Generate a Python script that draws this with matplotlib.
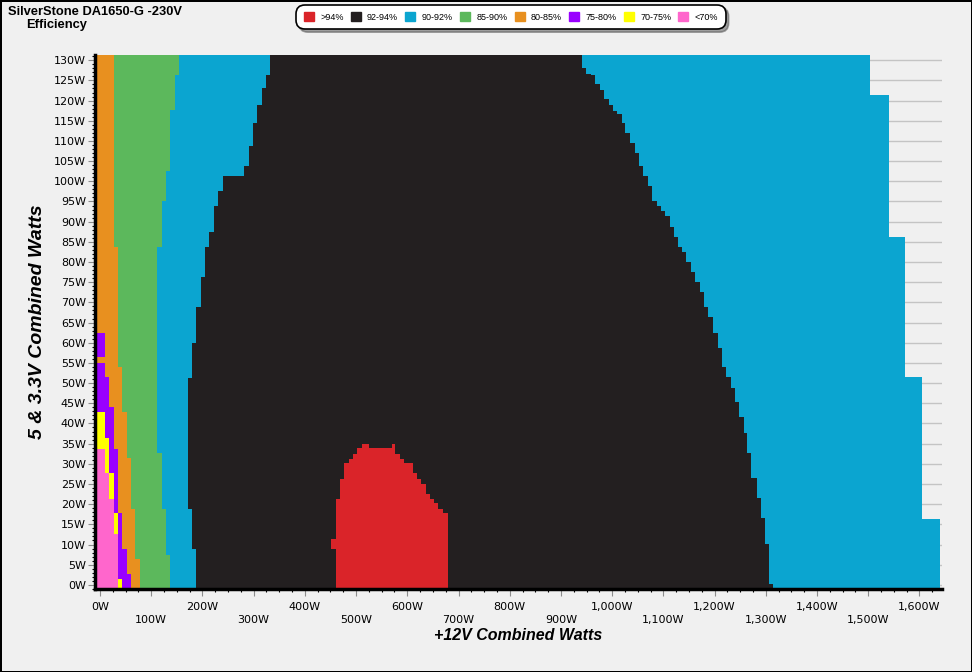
import matplotlib
matplotlib.use("Agg")
import matplotlib.pyplot as plt
from matplotlib.patches import Patch
from matplotlib.ticker import MultipleLocator

# efficiency zones
# each zone: y edges (5V & 3.3V watts) and the +12V watts where the colour stops
legend_labels = [">94%", "92-94%", "90-92%", "85-90%", "80-85%", "75-80%", "70-75%", "<70%"]
zone_colors = ["#da2429", "#231f20", "#0ba5d0", "#5cb85c", "#e8901f", "#9900ff", "#ffff00", "#ff66cc"]

right_edges = [-1.1, 16.4, 51.4, 86.2, 121.4, 131.3]
right_end = [1641, 1605, 1572, 1540, 1504]

black_edges = [-1.1, 0.1, 10.1, 16.5, 21.5, 26.4, 32.6, 37.6, 41.5, 45.2, 48.9, 51.4,
               53.9, 58.8, 62.5, 66.4, 68.9, 72.5, 75.0, 77.5, 80.0, 82.4, 83.7, 86.1,
               88.6, 91.3, 92.6, 93.8, 95.1, 98.8, 101.3, 103.8, 106.9, 109.4, 111.9,
               114.4, 116.8, 117.5, 118.9, 120.5, 122.6, 124.2, 126.3, 126.7, 128.1, 131.3]
black_end = [1315, 1307, 1298, 1290, 1282, 1272, 1264, 1257, 1247, 1239, 1232,
             1222, 1214, 1206, 1196, 1188, 1178.5, 1170.7, 1162, 1154, 1145, 1137,
             1128, 1120, 1112, 1103, 1095, 1087, 1077, 1069, 1061, 1051.7, 1044,
             1034, 1026, 1018.5, 1010, 1001, 993, 983.4, 975.6, 967, 958, 949.6, 941.8]

red_edges = [-1.1, 8.8, 11.3, 17.7, 18.9, 20.2, 21.4, 22.6, 25.1, 26.3, 27.6, 30.1,
             31.3, 32.5, 33.8, 35.0]
red_start = [460.5, 450.7, 460.5, 460.5, 460.5, 460.5, 468.3, 468.3, 468.3, 476.1,
             476.1, 485.9, 493.7, 501.5, 511.2]
red_end = [679, 679, 679, 669.3, 659.5, 651.7, 643.9, 636.1, 626.3, 618.5, 610.7,
           593.2, 585.4, 575.6, 524.9]
red_bump_edges = [33.8, 35.0]
red_bump_start = [569.8]
red_bump_end = [575.6]

blue_edges = [-1.1, 8.8, 18.9, 51.3, 60.0, 68.8, 76.2, 83.7, 87.4, 93.9, 97.6, 101.3,
              103.8, 108.7, 114.4, 118.9, 123.0, 126.3, 131.3]
blue_end = [187.3, 179.5, 171.7, 179.5, 187.3, 197, 205, 212.7, 222.4, 230, 240,
            281, 290.7, 298.5, 306, 316, 324, 331.7]

green_edges = [-1.1, 7.5, 18.9, 32.6, 83.7, 95.1, 102.5, 117.6, 126.3, 131.3]
green_end = [136.6, 128.8, 121, 111.2, 121, 128.8, 136.6, 146.3, 154]

orange_edges = [-1.1, 6.5, 18.9, 31.4, 42.8, 53.9, 83.7, 131.3]
orange_end = [78, 68.3, 60.5, 52.7, 43, 35.1, 27.3]

purple_edges = [-1.1, 2.7, 8.9, 17.7, 33.7, 44.0, 51.4, 55.1]
purple_end = [60.5, 52.7, 43, 34.5, 26.7, 17, 9.1]
purple_top_edges = [56.4, 62.5]
purple_top_end = [9.1]

yellow_edges = [-1.1, 1.5, 17.7, 27.7, 36.4, 42.8]
yellow_end = [43, 34.5, 26.7, 17, 9.1]

pink_edges = [-1.1, 12.7, 21.4, 27.7, 33.7]
pink_end = [34.5, 26.7, 17, 9.1]

x_ticks = [0, 100, 200, 300, 400, 500, 600, 700, 800, 900, 1000, 1100, 1200, 1300, 1400, 1500, 1600]
x_tick_labels = ["0W", "100W", "200W", "300W", "400W", "500W", "600W", "700W", "800W", "900W",
                 "1,000W", "1,100W", "1,200W", "1,300W", "1,400W", "1,500W", "1,600W"]
y_ticks = list(range(0, 135, 5))
y_tick_labels = [f"{v}W" for v in y_ticks]

x_lo, x_hi = -9.75, 1644
y_lo, y_hi = -1.1, 131.3

bg = "#f0f0f0"
fig = plt.figure(figsize=(9.72, 6.72), dpi=100, facecolor=bg)
fig.patch.set_edgecolor("black")
fig.patch.set_linewidth(2)
ax = fig.add_axes([95 / 972, 1 - 589.3 / 672, 847 / 972, 534.3 / 672])
ax.set_facecolor(bg)

blue, black, red = zone_colors[2], zone_colors[1], zone_colors[0]
ax.stairs(right_end, right_edges, baseline=x_lo, orientation="horizontal", fill=True, color=blue, lw=0)
ax.stairs(black_end, black_edges, baseline=x_lo, orientation="horizontal", fill=True, color=black, lw=0)
ax.stairs(red_end, red_edges, baseline=red_start, orientation="horizontal", fill=True, color=red, lw=0)
ax.stairs(red_bump_end, red_bump_edges, baseline=red_bump_start, orientation="horizontal", fill=True, color=red, lw=0)
ax.stairs(blue_end, blue_edges, baseline=x_lo, orientation="horizontal", fill=True, color=blue, lw=0)
ax.stairs(green_end, green_edges, baseline=x_lo, orientation="horizontal", fill=True, color=zone_colors[3], lw=0)
ax.stairs(orange_end, orange_edges, baseline=x_lo, orientation="horizontal", fill=True, color=zone_colors[4], lw=0)
ax.stairs(purple_end, purple_edges, baseline=x_lo, orientation="horizontal", fill=True, color=zone_colors[5], lw=0)
ax.stairs(purple_top_end, purple_top_edges, baseline=x_lo, orientation="horizontal", fill=True, color=zone_colors[5], lw=0)
ax.stairs(yellow_end, yellow_edges, baseline=x_lo, orientation="horizontal", fill=True, color=zone_colors[6], lw=0)
ax.stairs(pink_end, pink_edges, baseline=x_lo, orientation="horizontal", fill=True, color=zone_colors[7], lw=0)

ax.set_xlim(x_lo, x_hi)
ax.set_ylim(y_lo, y_hi)

for s in ["top", "right"]:
    ax.spines[s].set_visible(False)
for s in ["left", "bottom"]:
    ax.spines[s].set_linewidth(2.5)
    ax.spines[s].set_color("black")

ax.set_axisbelow(True)
ax.yaxis.grid(True, which="major", color="#c4c4c4", lw=1)

ax.set_xticks(x_ticks)
ax.set_xticklabels([lab if i % 2 == 0 else "\n" + lab for i, lab in enumerate(x_tick_labels)],
                   fontsize=8, linespacing=1.3)
ax.set_yticks(y_ticks)
ax.set_yticklabels(y_tick_labels, fontsize=8)
ax.xaxis.set_minor_locator(MultipleLocator(25))
ax.yaxis.set_minor_locator(MultipleLocator(1))
ax.tick_params(which="major", length=5, width=0.8, color="#8c8c8c")
ax.tick_params(axis="x", which="major", pad=4.5)
ax.tick_params(axis="y", which="major", pad=1.5)
ax.tick_params(which="minor", length=2.5, width=0.8, color="black")

ax.set_xlabel("+12V Combined Watts", fontsize=11.5, fontweight="bold", fontstyle="italic",
              family="Liberation Sans")
ax.xaxis.set_label_coords(0.5, -0.072)
ax.set_ylabel("5 & 3.3V Combined Watts", fontsize=14, fontweight="bold", fontstyle="italic",
              family="Liberation Sans")
ax.yaxis.set_label_coords(-0.058, 0.5)

fig.text(8 / 972, 1 - 12 / 672, "SilverStone DA1650-G -230V", fontsize=9.3, fontweight="bold",
         family="Liberation Sans", va="center", ha="left")
fig.text(26 / 972, 1 - 25 / 672, "Efficiency", fontsize=9.3, fontweight="bold",
         family="Liberation Sans", va="center", ha="left")

handles = [Patch(facecolor=c, edgecolor=c) for c in zone_colors]
leg = fig.legend(handles, legend_labels, loc="center", bbox_to_anchor=(511 / 972, 1 - 17 / 672),
                 ncol=8, frameon=True, fancybox=True, shadow=True,
                 prop={"family": "Liberation Sans", "size": 6.5},
                 handlelength=1.1, handleheight=1.1, handletextpad=0.7, columnspacing=0.8,
                 borderpad=0.85, edgecolor="black", facecolor="white", framealpha=1)
leg.get_frame().set_linewidth(1.2)
leg.get_frame().set_boxstyle("round,pad=0,rounding_size=1.0")

fig.savefig("out.png", dpi=100, facecolor=fig.get_facecolor())
